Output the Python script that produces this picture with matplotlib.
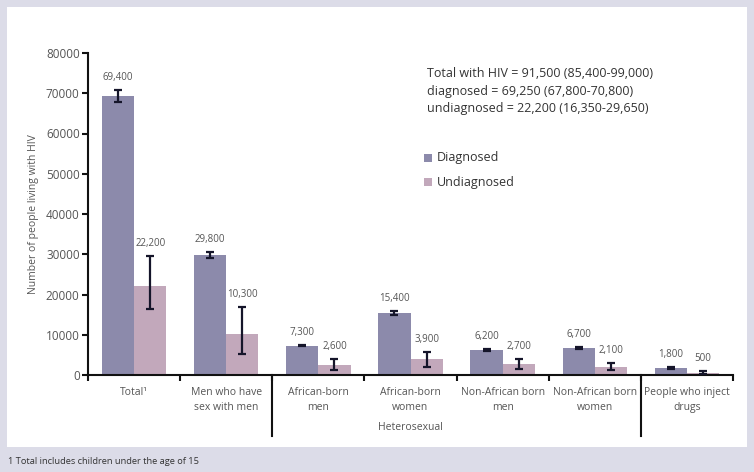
import matplotlib
matplotlib.use("Agg")
import matplotlib.pyplot as plt
from matplotlib.patches import Rectangle
import numpy as np

plt.rcParams['font.family'] = ['Open Sans', 'DejaVu Sans']

categories = ["Total\u00b9", "Men who have\nsex with men", "African-born\nmen", "African-born\nwomen",
              "Non-African born\nmen", "Non-African born\nwomen", "People who inject\ndrugs"]
diagnosed = [69400, 29800, 7300, 15400, 6200, 6700, 1800]
diag_low = [67800, 29000, 7100, 14800, 5950, 6500, 1600]
diag_high = [70800, 30500, 7500, 15800, 6450, 6900, 2000]
undiagnosed = [22200, 10300, 2600, 3900, 2700, 2100, 500]
undiag_low = [16350, 5300, 1250, 1900, 1500, 1250, 200]
undiag_high = [29650, 17000, 3900, 5700, 4000, 2900, 1000]
diag_labels = ["69,400", "29,800", "7,300", "15,400", "6,200", "6,700", "1,800"]
undiag_labels = ["22,200", "10,300", "2,600", "3,900", "2,700", "2,100", "500"]
yticks = [0, 10000, 20000, 30000, 40000, 50000, 60000, 70000, 80000]
summary_lines = ["Total with HIV = 91,500 (85,400-99,000)",
                 "diagnosed = 69,250 (67,800-70,800)",
                 "undiagnosed = 22,200 (16,350-29,650)"]

c_diag = "#8c8aab"
c_undiag = "#c2a8bb"
c_text = "#555555"
c_err = "#15152a"
bg = "#dcdce8"

fig = plt.figure(figsize=(7.54, 4.72), dpi=100, facecolor=bg)
# white panel behind the chart
panel = fig.add_axes([7/754, 1-447/472, 740/754, 440/472], zorder=-1)
panel.set_facecolor("white")
panel.set_xticks([]); panel.set_yticks([])
for s in panel.spines.values():
    s.set_visible(False)

ax = fig.add_axes([88/754, 1-375/472, 645/754, 322/472], zorder=1)
ax.set_facecolor("none")
x = np.arange(len(categories))
w = 0.35
d = np.array(diagnosed); u = np.array(undiagnosed)
ax.bar(x - w/2, d, w, color=c_diag, zorder=2)
ax.bar(x + w/2, u, w, color=c_undiag, zorder=2)
ax.errorbar(x - w/2, d, yerr=[d - np.array(diag_low), np.array(diag_high) - d], fmt="none",
            ecolor=c_err, elinewidth=1.6, capsize=2.8, capthick=1.6, zorder=3)
ax.errorbar(x + w/2, u, yerr=[u - np.array(undiag_low), np.array(undiag_high) - u], fmt="none",
            ecolor=c_err, elinewidth=1.6, capsize=2.8, capthick=1.6, zorder=3)

for xi, hi, lab in zip(x - w/2, diag_high, diag_labels):
    ax.annotate(lab, (xi, hi), xytext=(0, 5), textcoords="offset points", ha="center", va="bottom",
                fontsize=7, color=c_text)
for xi, hi, lab in zip(x + w/2, undiag_high, undiag_labels):
    ax.annotate(lab, (xi, hi), xytext=(0, 5), textcoords="offset points", ha="center", va="bottom",
                fontsize=7, color=c_text)

ax.set_xlim(-0.5, len(categories) - 0.5)
ax.set_ylim(0, 80000)
ax.set_yticks(yticks)
ax.set_yticklabels([str(t) for t in yticks], fontsize=8.5, color=c_text)
ax.set_ylabel("Number of people living with HIV", fontsize=7.5, color=c_text, labelpad=5)
for s in ["top", "right"]:
    ax.spines[s].set_visible(False)
for s in ["left", "bottom"]:
    ax.spines[s].set_linewidth(1.5)
    ax.spines[s].set_color("#111111")
ax.tick_params(axis="y", length=4, width=1.5, color="#111111", pad=2)

# category boundaries as ticks, labels centred beneath
ax.set_xticks(np.arange(-0.5, len(categories), 1.0))
ax.set_xticklabels([])
ax.tick_params(axis="x", length=4, width=1.5, color="#111111")
for xi, lab in zip(x, categories):
    ax.text(xi, -0.037, lab, transform=ax.get_xaxis_transform(), ha="center", va="top",
            fontsize=7.5, color=c_text, linespacing=1.45)

# long separators around the heterosexual group
for xb in [1.5, 5.5]:
    ax.plot([xb, xb], [0, -0.19], transform=ax.get_xaxis_transform(), color="#111111",
            lw=1.5, clip_on=False)
ax.text(3, -0.145, "Heterosexual", transform=ax.get_xaxis_transform(), ha="center", va="top",
        fontsize=7.5, color=c_text)

# summary text
fig.text(427/754, 1-91/472, "\n".join(summary_lines), ha="left", va="center",
         fontsize=9, color="#333333", linespacing=1.45)

# legend
for yy, col, lab in [(158, c_diag, "Diagnosed"), (182, c_undiag, "Undiagnosed")]:
    fig.patches.append(Rectangle((424/754, 1-(yy+4)/472), 8/754, 8/472, transform=fig.transFigure,
                                 facecolor=col, edgecolor="none", zorder=5))
    fig.text(437/754, 1-yy/472, lab, ha="left", va="center", fontsize=9, color="#333333")

fig.text(8/754, 1-462/472, "1 Total includes children under the age of 15", ha="left", va="center",
         fontsize=6.7, color="#333333")

fig.savefig("out.png", dpi=100, facecolor=bg)
